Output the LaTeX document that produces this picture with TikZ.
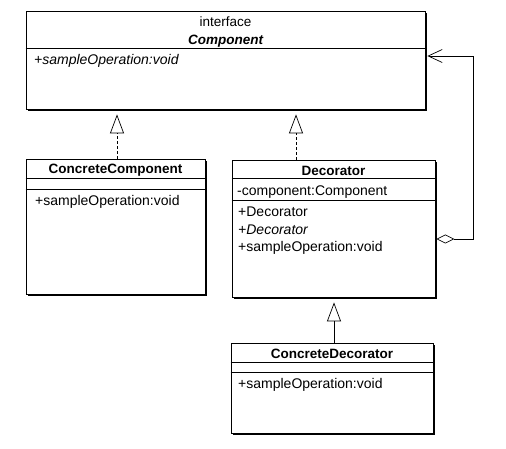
\documentclass[tikz,border=0pt]{standalone}
\usepackage{fontspec}
\setmainfont{Liberation Sans}
\usetikzlibrary{arrows.meta,shadows}
\begin{document}
\begin{tikzpicture}[x=1pt,y=-1pt,
  box/.style={draw=black, line width=0.8pt, fill=white, inner sep=0pt,
    drop shadow={shadow xshift=2pt, shadow yshift=-2pt, fill=black, opacity=1}},
  divider/.style={draw=black, line width=0.8pt},
  member/.style={font=\fontsize{14}{16}\selectfont, inner sep=0pt, anchor=west},
  classname/.style={font=\fontsize{13.5}{16}\selectfont\bfseries, inner sep=0pt},
  realize/.style={draw=black, line width=0.7pt, dash pattern=on 3pt off 2pt,
    -{Triangle[open, length=19pt, width=14pt, line width=0.7pt]}, shorten >=5pt},
  inherit/.style={draw=black, line width=0.7pt,
    -{Triangle[open, length=19pt, width=14pt, line width=0.7pt]}, shorten >=5pt},
  aggr/.style={draw=black, line width=0.7pt,
    {Diamond[open, length=18pt, width=9pt, line width=0.7pt]}-{Straight Barb[length=14pt, width=13pt, line width=0.7pt]},
    shorten >=2pt, shorten <=1pt}
]
\useasboundingbox (0,0) rectangle (506,449);
\fill[white] (0,0) rectangle (506,449);

% boxes
\node[box, minimum width=399pt, minimum height=98pt] (comp) at (225.5,60) {};
\node[box, minimum width=179pt, minimum height=135pt] (cc) at (115.5,226.5) {};
\node[box, minimum width=203pt, minimum height=137pt] (dec) at (333.5,228.5) {};
\node[box, minimum width=202pt, minimum height=90pt] (cd) at (332,388) {};

% divider levels
\coordinate (yc1) at (0,48);
\coordinate (ycc1) at (0,178);
\coordinate (ycc2) at (0,189);
\coordinate (yd1) at (0,178);
\coordinate (yd2) at (0,200);
\coordinate (ycd1) at (0,362);
\coordinate (ycd2) at (0,372);

\draw[divider] (comp.west |- yc1) -- (comp.east |- yc1);
\draw[divider] (cc.west |- ycc1) -- (cc.east |- ycc1);
\draw[divider] (cc.west |- ycc2) -- (cc.east |- ycc2);
\draw[divider] (dec.west |- yd1) -- (dec.east |- yd1);
\draw[divider] (dec.west |- yd2) -- (dec.east |- yd2);
\draw[divider] (cd.west |- ycd1) -- (cd.east |- ycd1);
\draw[divider] (cd.west |- ycd2) -- (cd.east |- ycd2);

% texts
\node[inner sep=0pt, font=\fontsize{13.5}{16}\selectfont] (tint) at (225.5,22) {interface};
\node[classname, font=\fontsize{13.5}{16}\selectfont\bfseries\itshape] (tcomp) at (225.5,41) {Component};
\node[member, font=\fontsize{14}{16}\selectfont\itshape] (tcop) at (34,61) {+sampleOperation:void};

\node[classname] (tcc) at (115.5,170) {ConcreteComponent};
\node[member] (tccop) at (35,202) {+sampleOperation:void};

\node[classname] (tdec) at (333.5,171) {Decorator};
\node[member] (tdatt) at (237,192) {-component:Component};
\node[member] (tdc1) at (238,212) {+Decorator};
\node[member, font=\fontsize{14}{16}\selectfont\itshape] (tdc2) at (238,230) {+Decorator};
\node[member] (tdop) at (238,248) {+sampleOperation:void};

\node[classname] (tcd) at (332,354) {ConcreteDecorator};
\node[member] (tcdop) at (238,385) {+sampleOperation:void};

% connectors
\coordinate (xa) at (117,0);
\coordinate (xb) at (296,0);
\coordinate (xc) at (334,0);
\coordinate (ya) at (0,239);
\coordinate (yb) at (0,56);
\coordinate (ra) at (473,239);

\draw[realize] (cc.north -| xa) -- (comp.south -| xa);
\draw[realize] (dec.north -| xb) -- (comp.south -| xb);
\draw[inherit] (cd.north -| xc) -- (dec.south -| xc);
\draw[aggr] (dec.east |- ya) -- (ra) |- (comp.east |- yb);
\end{tikzpicture}
\end{document}
